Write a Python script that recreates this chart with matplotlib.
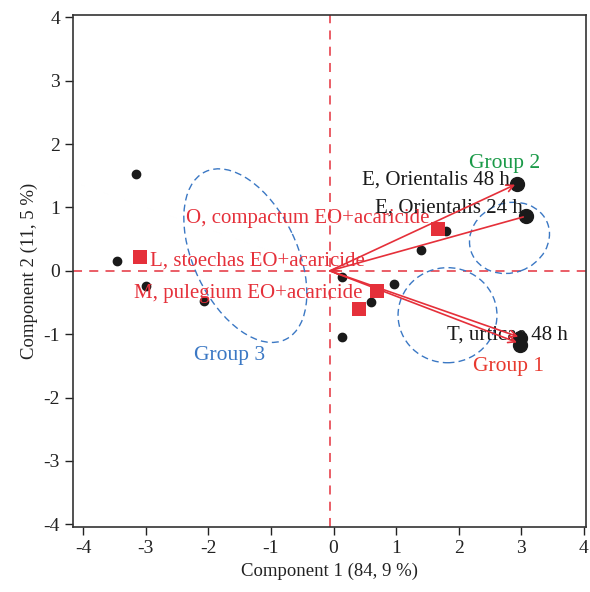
import matplotlib.pyplot as plt
from matplotlib.patches import Ellipse

plt.rcParams['font.family'] = ['Liberation Serif', 'DejaVu Serif']
plt.rcParams['axes.unicode_minus'] = False

# individuals (small dots)
dot_x = [-3.16, -3.46, -3.00, -2.07, 0.14, 0.14, 0.59, 0.97, 1.40, 1.80]
dot_y = [1.53, 0.16, -0.24, -0.47, -0.09, -1.04, -0.49, -0.20, 0.33, 0.63]

# active variables (large dots + arrows)
var_names = ['E, Orientalis 48 h', 'E, Orientalis 24 h', 'T, urticae 48 h']
var_x = [2.93, 3.07, 2.98, 2.98]
var_y = [1.37, 0.87, -1.06, -1.17]
arrow_x = [2.90, 3.03, 2.95, 2.93]
arrow_y = [1.36, 0.85, -1.04, -1.13]
arrow_origin = (-0.06, 0.0)
var_lx = [1.64, 1.84, 2.77]
var_ly = [1.43, 0.99, -1.01]

# supplementary treatments (red squares)
sq_x = [-3.09, 1.66, 0.69, 0.41]
sq_y = [0.22, 0.66, -0.32, -0.60]
treat_names = ['O, compactum EO+acaricide', 'L, stoechas EO+acaricide', 'M, pulegium EO+acaricide']
treat_lx = [-0.42, -1.21, -1.36]
treat_ly = [0.83, 0.16, -0.35]

# group ellipses: centre x, centre y, width, height, angle
groups = ['Group 1', 'Group 2', 'Group 3']
grp_cx = [1.82, 2.81, -1.41]
grp_cy = [-0.70, 0.52, 0.24]
grp_w = [1.58, 1.30, 2.94]
grp_h = [1.50, 1.10, 1.65]
grp_ang = [0, 20, 116]
grp_lx = [2.80, 2.73, -1.66]
grp_ly = [-1.51, 1.70, -1.34]
grp_col = ['#E8392E', '#1A9A48', '#3B78C4']

red = '#E5303A'
blue = '#3B78C4'

fig = plt.figure(figsize=(5.90, 5.92), dpi=100)
ax = fig.add_axes([0.124, 0.110, 0.869, 0.865])

ax.axhline(0, color='#E8505A', ls=(0, (5, 4)), lw=1.3, zorder=1)
ax.axvline(arrow_origin[0], color='#E8505A', ls=(0, (5, 4)), lw=1.3, zorder=1)

for cx, cy, w, h, a in zip(grp_cx, grp_cy, grp_w, grp_h, grp_ang):
    ax.add_patch(Ellipse((cx, cy), w, h, angle=a, fill=False, ec=blue,
                         ls=(0, (5, 3)), lw=1.0, zorder=2))

ax.scatter(dot_x, dot_y, s=36, color='#1a1a1a', zorder=4)
ax.scatter(var_x, var_y, s=100, color='#1a1a1a', zorder=4)
ax.scatter(sq_x, sq_y, s=90, marker='s', color=red, zorder=5, linewidths=0)

for i, (ex, ey) in enumerate(zip(arrow_x, arrow_y)):
    style = '-' if i == 1 else '->,head_length=0.5,head_width=0.25'
    ax.annotate('', xy=(ex, ey), xytext=arrow_origin,
                arrowprops=dict(arrowstyle=style, color=red, lw=1.2,
                                shrinkA=0, shrinkB=0),
                zorder=6)

# tiny arrowhead at origin for the supplementary treatments
ax.annotate('', xy=(arrow_origin[0] - 0.01, 0), xytext=(arrow_origin[0] + 0.15, 0),
            arrowprops=dict(arrowstyle='->,head_length=0.5,head_width=0.25',
                            color=red, lw=1.0, shrinkA=0, shrinkB=0), zorder=6)

for name, lx, ly in zip(var_names, var_lx, var_ly):
    ax.text(lx, ly, name, ha='center', va='center', fontsize=15, color='#1a1a1a', zorder=3)

for name, lx, ly in zip(treat_names, treat_lx, treat_ly):
    ax.text(lx, ly, name, ha='center', va='center', fontsize=15, color=red, zorder=7)

for name, lx, ly, c in zip(groups, grp_lx, grp_ly, grp_col):
    ax.text(lx, ly, name, ha='center', va='center', fontsize=15.5, color=c)

ax.set_xlim(-4.16, 4.03)
ax.set_ylim(-4.04, 4.04)
ax.set_xticks(range(-4, 5))
ax.set_yticks(range(-4, 5))
ax.tick_params(direction='out', length=6, width=1, labelsize=14, colors='#222222')
ax.set_xlabel('Component 1 (84, 9 %)', fontsize=13.5, color='#222222', labelpad=4)
ax.set_ylabel('Component 2 (11, 5 %)', fontsize=13.5, color='#222222', labelpad=4)
for s in ax.spines.values():
    s.set_color('#333333')
    s.set_linewidth(1.2)

fig.savefig('out.png')
